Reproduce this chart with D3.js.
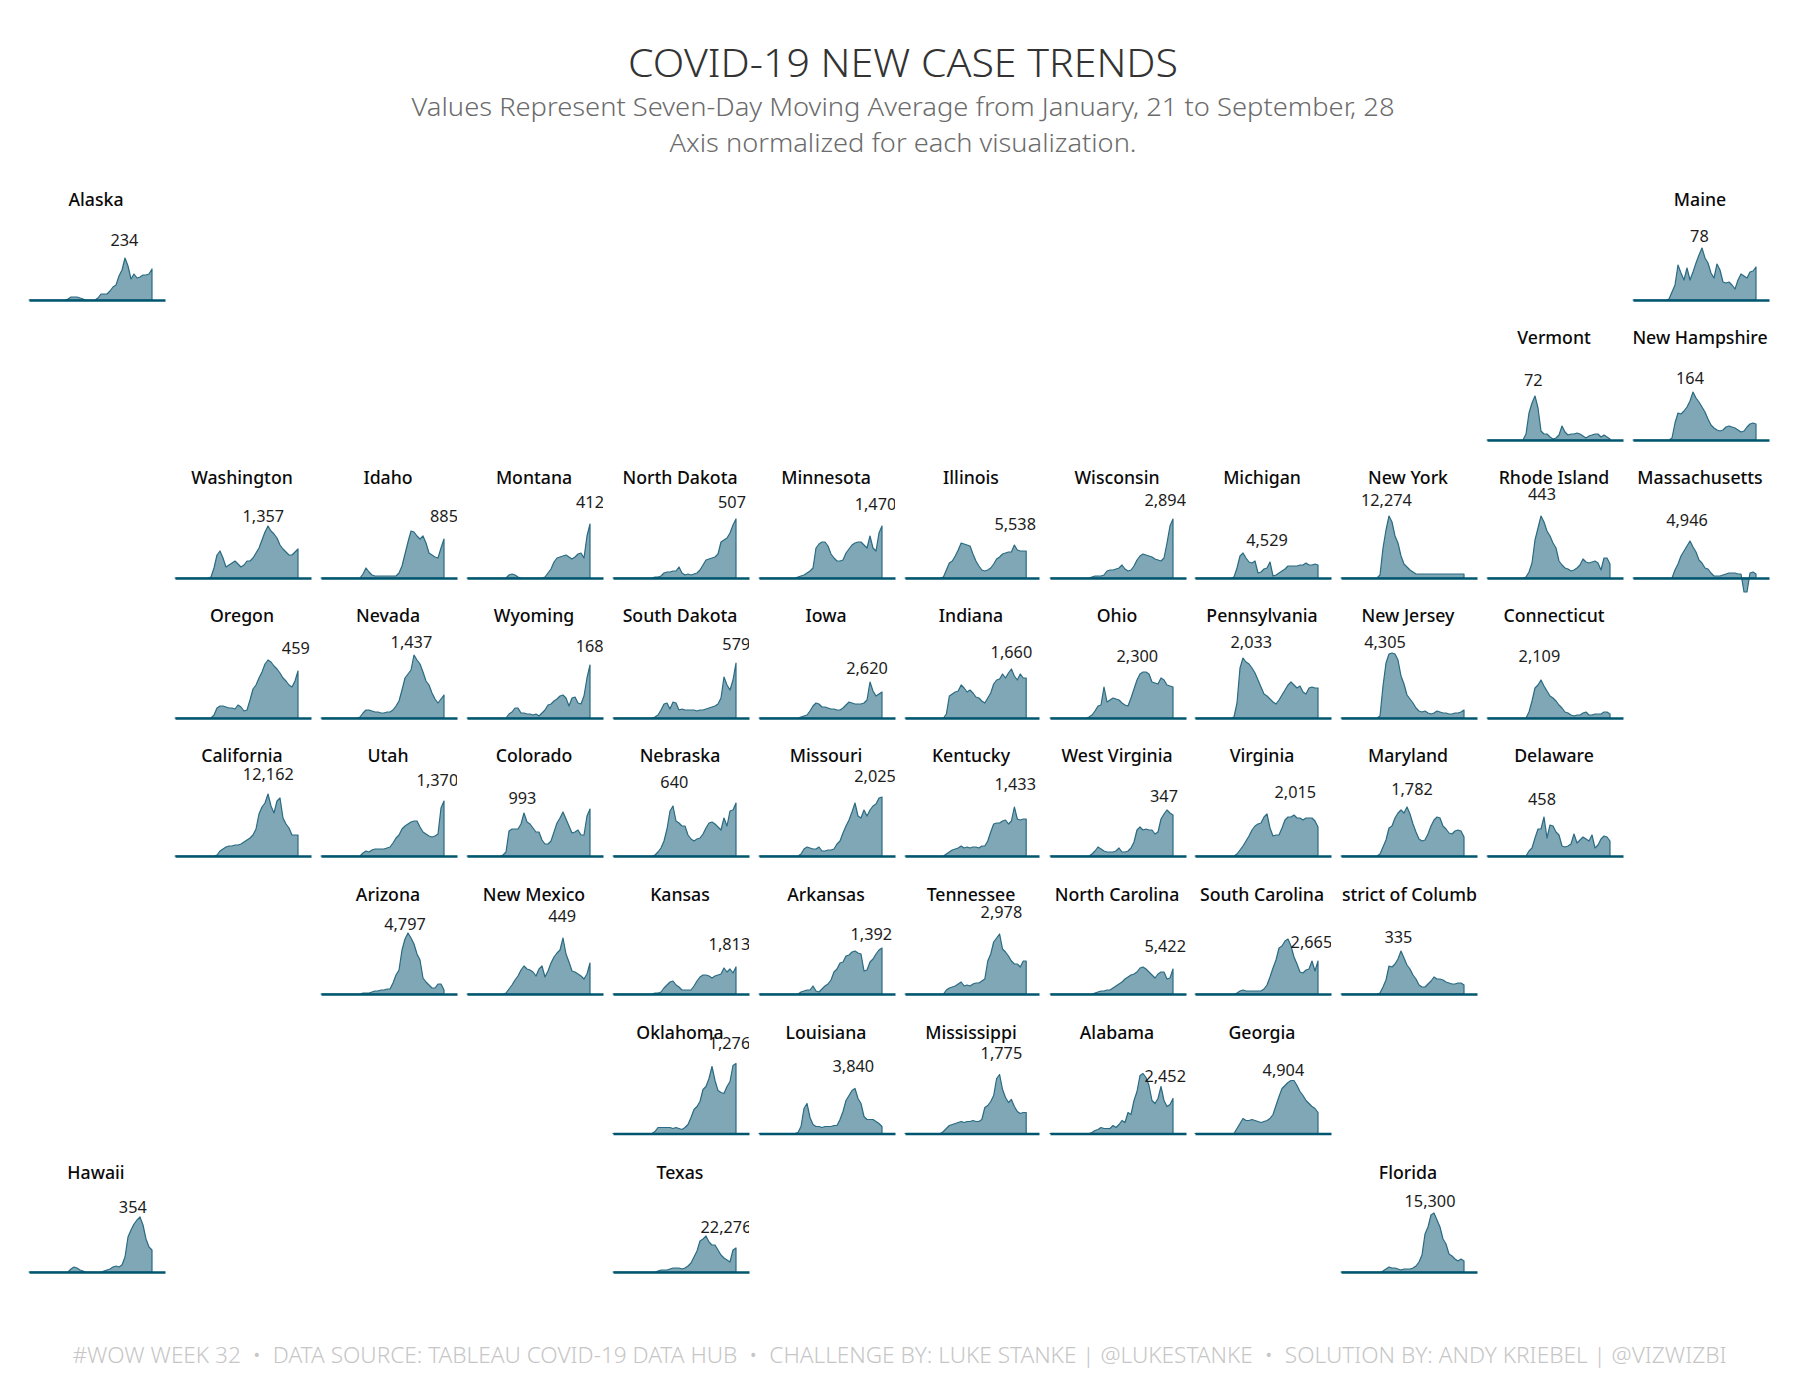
<!DOCTYPE html>
<html>
<head>
<meta charset="utf-8">
<style>
  body { margin: 0; background: #fff; }
  text { font-family: "Noto Sans", "Open Sans", sans-serif; }
</style>
</head>
<body>

<script src="https://d3js.org/d3.v7.min.js"></script>
<script>

// one sample every six days, Jan 21 to Sep 28, in normalized axis units
const alaska = [0,0,0,0,0,0,0,0,0,0,0,0,0,1,3,3,3,2,1,0,0,0,0,2,6,6,6,9,13,15,24,30,42,34,21,26,22,23,25,25,26,31];
const maine = [0,0,0,0,0,0,0,0,0,0,0,0,1,8,15,35,27,20,32,20,28,37,45,52,42,37,27,22,36,30,18,17,18,15,11,20,26,24,22,28,29,33];
const vermont = [0,0,0,0,0,0,0,0,0,0,0,0,0,6,27,37,44,32,9,6,6,3,1,2,5,14,8,5,6,6,7,6,4,2,4,5,6,6,3,5,3,1];
const newHampshire = [0,0,0,0,0,0,0,0,0,0,0,0,0,2,17,27,26,29,33,39,48,42,38,33,28,21,15,12,10,9,10,13,14,13,12,10,8,9,13,16,17,16];
const washington = [0,0,0,0,0,0,0,0,0,0,0,0,1,10,23,27,20,11,13,15,17,14,11,13,17,17,20,25,30,38,46,52,47,44,40,33,29,26,23,23,26,29];
const idaho = [0,0,0,0,0,0,0,0,0,0,0,0,0,0,4,10,6,3,2,2,2,2,2,2,2,2,5,12,24,36,47,46,42,39,42,35,25,23,21,20,30,39];
const montana = [0,0,0,0,0,0,0,0,0,0,0,0,0,0,3,4,3,1,0,0,0,0,0,0,0,0,1,5,9,16,20,21,22,23,21,19,21,24,25,20,42,54];
const northDakota = [0,0,0,0,0,0,0,0,0,0,0,0,0,0,1,1,2,5,6,6,7,7,11,5,3,4,3,4,5,8,13,18,19,20,21,24,36,38,40,45,53,59];
const minnesota = [0,0,0,0,0,0,0,0,0,0,0,0,0,1,2,3,5,7,10,30,34,36,36,32,24,20,17,17,18,25,29,33,35,36,36,33,30,42,30,27,45,52];
const illinois = [0,0,0,0,0,0,0,0,0,0,0,0,0,1,8,15,17,22,28,35,34,33,32,24,17,12,8,7,8,10,14,19,21,24,25,26,26,33,28,27,27,27];
const wisconsin = [0,0,0,0,0,0,0,0,0,0,0,0,0,0,1,2,2,2,3,7,8,8,9,10,13,9,7,8,12,18,22,24,23,22,21,19,18,17,20,35,52,59];
const michigan = [0,0,0,0,0,0,0,0,0,0,0,0,0,1,10,22,25,20,16,15,17,5,6,9,10,16,2,3,5,7,9,12,12,12,12,13,13,15,13,13,14,13];
const newYork = [0,0,0,0,0,0,0,0,0,0,0,0,0,3,30,48,62,56,42,35,22,14,11,8,6,4,4,4,4,4,4,4,4,4,4,4,4,4,4,4,4,4];
const rhodeIsland = [0,0,0,0,0,0,0,0,0,0,0,0,0,1,6,15,38,50,62,56,47,42,35,30,17,13,10,9,7,8,10,13,19,16,15,16,17,15,8,20,20,14];
const massachusetts = [0,0,0,0,0,0,0,0,0,0,0,0,0,0,8,14,22,27,32,37,31,26,18,15,10,9,5,2,2,2,3,4,5,5,5,4,4,-14,-14,5,6,4];
const oregon = [0,0,0,0,0,0,0,0,0,0,0,0,0,3,10,12,12,11,10,10,9,13,11,7,8,18,29,33,40,46,54,58,56,52,49,45,40,37,33,31,37,47];
const nevada = [0,0,0,0,0,0,0,0,0,0,0,0,0,1,5,8,8,7,6,6,5,5,6,6,8,12,17,28,40,44,48,63,58,54,46,37,33,25,19,15,19,23];
const wyoming = [0,0,0,0,0,0,0,0,0,0,0,0,0,0,4,6,10,10,5,5,4,4,3,4,2,5,8,13,14,17,19,22,23,20,12,20,21,15,14,22,40,53];
const southDakota = [0,0,0,0,0,0,0,0,0,0,0,0,0,0,1,3,8,14,15,9,16,15,8,9,8,8,8,8,7,8,8,9,10,11,12,14,20,41,33,28,38,55];
const iowa = [0,0,0,0,0,0,0,0,0,0,0,0,0,0,1,2,3,7,12,15,14,11,11,10,9,9,8,8,10,13,16,15,14,14,14,15,18,36,27,22,24,26];
const indiana = [0,0,0,0,0,0,0,0,0,0,0,0,0,0,4,22,24,26,27,33,30,26,28,25,21,20,17,15,20,25,34,38,39,44,40,45,49,42,38,44,40,40];
const ohio = [0,0,0,0,0,0,0,0,0,0,0,0,0,1,3,7,12,13,31,16,18,20,19,18,15,13,12,20,29,38,44,46,46,44,36,35,34,40,38,33,32,31];
const pennsylvania = [0,0,0,0,0,0,0,0,0,0,0,0,0,1,15,50,60,56,54,50,45,38,31,24,22,19,16,14,18,23,28,33,36,33,30,32,26,24,30,31,30,30];
const newJersey = [0,0,0,0,0,0,0,0,0,0,0,0,0,2,32,55,64,65,64,58,42,34,23,19,15,10,7,6,7,5,4,5,7,6,5,5,4,4,5,5,6,8];
const connecticut = [0,0,0,0,0,0,0,0,0,0,0,0,0,0,6,17,30,33,38,32,27,22,20,17,13,10,6,5,3,2,3,3,5,6,3,3,4,4,4,6,6,4];
const california = [0,0,0,0,0,0,0,0,0,0,0,0,0,0,1,5,7,9,10,10,11,11,12,14,16,18,21,27,42,49,53,62,50,43,55,58,38,32,28,21,21,21];
const utah = [0,0,0,0,0,0,0,0,0,0,0,0,0,0,3,5,4,6,7,7,7,7,8,9,13,18,21,27,30,32,34,35,35,29,24,22,20,19,20,22,48,55];
const colorado = [0,0,0,0,0,0,0,0,0,0,0,0,1,4,25,27,27,27,32,43,34,32,28,24,24,16,12,12,15,24,33,38,44,37,30,23,24,26,21,21,40,47];
const nebraska = [0,0,0,0,0,0,0,0,0,0,0,0,0,0,1,4,8,15,27,45,50,35,33,30,30,21,17,15,17,18,22,28,33,34,32,29,26,38,30,45,46,53];
const missouri = [0,0,0,0,0,0,0,0,0,0,0,0,0,0,2,7,9,8,7,7,9,5,5,6,6,7,12,15,23,30,36,44,53,40,38,46,40,46,50,52,58,59];
const kentucky = [0,0,0,0,0,0,0,0,0,0,0,0,0,0,2,4,6,7,8,10,8,9,8,9,9,8,10,10,15,24,32,33,33,35,36,32,35,49,37,36,37,37];
const westVirginia = [0,0,0,0,0,0,0,0,0,0,0,0,0,0,2,5,9,7,5,4,4,4,5,8,4,4,5,8,14,26,29,26,27,26,26,22,24,37,42,46,43,41];
const virginia = [0,0,0,0,0,0,0,0,0,0,0,0,0,0,2,6,10,15,20,26,30,32,33,39,42,28,20,21,21,28,36,39,39,41,38,38,36,38,38,38,35,29];
const maryland = [0,0,0,0,0,0,0,0,0,0,0,0,0,2,9,16,28,30,38,43,46,43,49,42,32,24,17,15,16,22,30,36,39,38,30,27,23,22,25,26,25,19];
const delaware = [0,0,0,0,0,0,0,0,0,0,0,0,0,0,5,8,18,27,27,39,18,31,30,24,21,10,9,10,12,22,13,16,19,17,15,21,8,11,17,20,19,15];
const arizona = [0,0,0,0,0,0,0,0,0,0,0,0,0,0,1,1,1,2,3,3,4,4,5,5,11,19,24,44,55,61,56,50,40,34,16,12,9,6,6,10,10,4];
const newMexico = [0,0,0,0,0,0,0,0,0,0,0,0,0,1,5,9,14,18,24,28,25,24,22,18,25,28,17,23,31,37,41,44,56,40,32,23,22,20,18,15,20,31];
const kansas = [0,0,0,0,0,0,0,0,0,0,0,0,0,0,1,1,2,6,9,12,13,9,7,4,4,4,4,8,13,17,19,19,18,16,18,19,20,26,22,25,21,27];
const arkansas = [0,0,0,0,0,0,0,0,0,0,0,0,0,0,2,3,4,4,8,3,2,5,8,10,14,22,25,31,32,38,39,42,43,41,40,23,24,32,35,40,44,46];
const tennessee = [0,0,0,0,0,0,0,0,0,0,0,0,0,0,4,6,7,8,10,12,8,9,8,10,11,11,13,15,33,40,52,56,60,45,42,38,33,30,30,27,33,33];
const northCarolina = [0,0,0,0,0,0,0,0,0,0,0,0,0,0,0,1,2,3,3,4,4,6,8,10,12,15,17,19,20,22,26,27,25,22,19,16,20,22,22,15,16,25];
const southCarolina = [0,0,0,0,0,0,0,0,0,0,0,0,0,0,1,3,4,3,3,3,3,3,3,5,9,17,26,34,46,48,53,55,48,37,30,22,21,24,25,33,23,33];
const districtOfColumbia = [0,0,0,0,0,0,0,0,0,0,0,0,0,1,7,14,28,27,30,35,43,36,29,25,19,15,9,7,7,10,13,17,15,15,14,12,11,10,10,11,11,9];
const oklahoma = [0,0,0,0,0,0,0,0,0,0,0,0,0,0,2,6,6,6,6,6,5,6,5,4,6,9,16,24,27,32,44,47,55,67,53,43,41,40,47,52,68,70];
const louisiana = [0,0,0,0,0,0,0,0,0,0,0,0,0,1,7,25,30,16,9,7,7,6,7,7,7,8,8,14,22,33,38,43,45,35,30,17,14,14,14,12,10,7];
const mississippi = [0,0,0,0,0,0,0,0,0,0,0,0,0,2,5,8,9,10,11,12,11,12,12,13,12,12,14,26,28,32,38,55,59,44,36,31,34,27,22,20,21,21];
const alabama = [0,0,0,0,0,0,0,0,0,0,0,0,0,0,1,3,4,6,5,5,5,8,6,9,13,11,21,19,33,42,58,60,56,48,33,30,35,47,33,27,29,35];
const georgia = [0,0,0,0,0,0,0,0,0,0,0,0,0,0,5,10,15,13,13,14,13,12,11,12,13,15,19,28,37,45,48,51,53,53,48,42,38,33,30,27,25,21];
const hawaii = [0,0,0,0,0,0,0,0,0,0,0,0,0,0,3,5,4,2,1,0,0,0,0,0,0,1,2,3,5,6,5,7,15,35,42,48,52,55,47,33,25,22];
const texas = [0,0,0,0,0,0,0,0,0,0,0,0,0,0,0,1,2,2,2,3,4,4,4,3,4,6,9,15,21,31,33,36,30,27,27,22,17,14,12,10,22,24];
const florida = [0,0,0,0,0,0,0,0,0,0,0,0,0,0,1,3,5,4,4,3,2,3,3,3,4,6,10,17,38,45,57,59,52,45,33,28,18,16,13,11,13,11];

const states = [
  'Alaska', 'Maine', 'Vermont', 'New Hampshire',
  'Washington', 'Idaho', 'Montana', 'North Dakota', 'Minnesota', 'Illinois', 'Wisconsin', 'Michigan', 'New York', 'Rhode Island', 'Massachusetts',
  'Oregon', 'Nevada', 'Wyoming', 'South Dakota', 'Iowa', 'Indiana', 'Ohio', 'Pennsylvania', 'New Jersey', 'Connecticut',
  'California', 'Utah', 'Colorado', 'Nebraska', 'Missouri', 'Kentucky', 'West Virginia', 'Virginia', 'Maryland', 'Delaware',
  'Arizona', 'New Mexico', 'Kansas', 'Arkansas', 'Tennessee', 'North Carolina', 'South Carolina', 'District of Columbia',
  'Oklahoma', 'Louisiana', 'Mississippi', 'Alabama', 'Georgia',
  'Hawaii', 'Texas', 'Florida'
];

const trends = [
  alaska, maine, vermont, newHampshire,
  washington, idaho, montana, northDakota, minnesota, illinois, wisconsin, michigan, newYork, rhodeIsland, massachusetts,
  oregon, nevada, wyoming, southDakota, iowa, indiana, ohio, pennsylvania, newJersey, connecticut,
  california, utah, colorado, nebraska, missouri, kentucky, westVirginia, virginia, maryland, delaware,
  arizona, newMexico, kansas, arkansas, tennessee, northCarolina, southCarolina, districtOfColumbia,
  oklahoma, louisiana, mississippi, alabama, georgia,
  hawaii, texas, florida
];

const markedValues = [
  234, 78, 72, 164,
  1357, 885, 412, 507, 1470, 5538, 2894, 4529, 12274, 443, 4946,
  459, 1437, 168, 579, 2620, 1660, 2300, 2033, 4305, 2109,
  12162, 1370, 993, 640, 2025, 1433, 347, 2015, 1782, 458,
  4797, 449, 1813, 1392, 2978, 5422, 2665, 335,
  1276, 3840, 1775, 2452, 4904,
  354, 22276, 15300
];

// tile map layout
const tileCol = [
  0, 11, 10, 11,
  1, 2, 3, 4, 5, 6, 7, 8, 9, 10, 11,
  1, 2, 3, 4, 5, 6, 7, 8, 9, 10,
  1, 2, 3, 4, 5, 6, 7, 8, 9, 10,
  2, 3, 4, 5, 6, 7, 8, 9,
  4, 5, 6, 7, 8,
  0, 4, 9
];
const tileRow = [
  0, 0, 1, 1,
  2, 2, 2, 2, 2, 2, 2, 2, 2, 2, 2,
  3, 3, 3, 3, 3, 3, 3, 3, 3, 3,
  4, 4, 4, 4, 4, 4, 4, 4, 4, 4,
  5, 5, 5, 5, 5, 5, 5, 5,
  6, 6, 6, 6, 6,
  7, 7, 7
];
const colLeft = [29, 175, 321, 467, 613, 759, 905, 1050, 1195, 1341, 1487, 1633];
const colWidth = [136, 136, 136, 136, 136, 136, 134, 136, 136, 136, 136, 136];
const rowBase = [300, 440, 578, 718, 856, 994, 1133.5, 1272];
const rowTitleLift = [94.5, 96.3, 94, 96.3, 94, 93, 94.5, 93.5];

// where the value mark sits: [right of panel start, above the baseline]
const markOffset = [
  [95.4, 59.7], [66.4, 64], [46.3, 60], [57, 61.6],
  [88.3, 61.4], [123, 61.4], [123, 75.6], [119, 76], [116.5, 73.6], [110.2, 53.7], [115.2, 78], [72, 38], [45.4, 78], [55, 83.6], [54, 58],
  [120.8, 70], [90.4, 75.6], [122.7, 71.7], [123.3, 73.7], [108, 49.6], [106.4, 65.6], [87.3, 61.8], [56.3, 75.6], [44, 76], [52.4, 62],
  [93.3, 81.6], [116.4, 75.8], [55.4, 57.4], [61.3, 74], [116.1, 79.6], [110.2, 71.6], [114, 59.4], [100.3, 63.6], [71, 67.3], [55, 57],
  [84, 69.5], [95.2, 78], [116.4, 49.6], [112.3, 59.6], [96.4, 81.8], [115.2, 47.7], [116.4, 51.6], [57.4, 57],
  [116.4, 90.7], [94.3, 67], [96.4, 80.7], [115.2, 57], [88.4, 63],
  [103.8, 64.8], [113, 45], [89, 71.2]
];

const width = 1800;
const height = 1400;

const svg = d3.select('body')
              .append('svg')
              .attr('width', width)
              .attr('height', height);

const headers = [
  {text: 'COVID-19 NEW CASE TRENDS', x: 903, y: 76.5, size: 39, fill: '#333333', len: 550, weight: 300},
  {text: 'Values Represent Seven-Day Moving Average from January, 21 to September, 28', x: 903, y: 116, size: 25, fill: '#6b6b6b', len: 983, weight: 300},
  {text: 'Axis normalized for each visualization.', x: 903, y: 151.5, size: 25, fill: '#6b6b6b', len: 467, weight: 300},
  {text: '#WOW WEEK 32  •  DATA SOURCE: TABLEAU COVID-19 DATA HUB  •  CHALLENGE BY: LUKE STANKE | @LUKESTANKE  •  SOLUTION BY: ANDY KRIEBEL | @VIZWIZBI', x: 899.5, y: 1363, size: 22, fill: '#c6c6c6', len: 1654, weight: 300}
];

svg.selectAll('text.header')
   .data(headers)
   .enter()
   .append('text')
   .attr('class', 'header')
   .attr('x', d => d.x)
   .attr('y', d => d.y)
   .attr('text-anchor', 'middle')
   .attr('font-size', d => d.size)
   .attr('font-weight', d => d.weight)
   .attr('fill', d => d.fill)
   .attr('textLength', d => d.len)
   .attr('lengthAdjust', 'spacingAndGlyphs')
   .style('white-space', 'pre')
   .text(d => d.text);

const numFmt = d3.format(',');
const lastIndex = alaska.length - 1;
const areaEnd = 123;        // last sample lands here on a 136 wide panel

const panels = svg.selectAll('g.panel')
                  .data(states.map((name, i) => ({
                    name,
                    i,
                    values: trends[i],
                    w: colWidth[tileCol[i]],
                    left: colLeft[tileCol[i]],
                    base: rowBase[tileRow[i]],
                    lift: rowTitleLift[tileRow[i]]
                  })))
                  .enter()
                  .append('g')
                  .attr('class', 'panel')
                  .attr('transform', d => `translate(${d.left},${d.base})`);

const defs = svg.append('defs');
panels.each(d => {
  defs.append('clipPath')
      .attr('id', `clip${d.i}`)
      .append('rect')
      .attr('x', d.left)
      .attr('y', d.base - 120)
      .attr('width', d.w)
      .attr('height', 150);
});

const y = d3.scaleLinear().domain([0, 70]).range([0, -70]);

panels.each(function(d) {
  const g = d3.select(this);
  const x = d3.scaleLinear()
              .domain([0, lastIndex * 136 / areaEnd])
              .range([0, d.w]);
  const area = d3.area()
                 .x((v, i) => x(i))
                 .y0(y(0))
                 .y1(v => y(v));

  g.append('path')
   .datum(d.values)
   .attr('d', area)
   .attr('fill', '#7fa7b5')
   .attr('stroke', '#2a6a82')
   .attr('stroke-width', 1.2)
   .attr('stroke-linejoin', 'round');

  const axis = g.append('g')
                .call(d3.axisBottom(x).tickValues([]).tickSizeOuter(0));
  axis.select('.domain')
      .attr('stroke', '#00566f')
      .attr('stroke-width', 2.5);

  const label = d3.select(this.parentNode)
                  .append('g')
                  .attr('clip-path', `url(#clip${d.i})`)
                  .append('g')
                  .attr('transform', `translate(${d.left},${d.base})`);

  label.append('text')
       .attr('x', d.w / 2 - 1)
       .attr('y', -d.lift)
       .attr('text-anchor', 'middle')
       .attr('font-size', 17.7)
       .attr('font-weight', 500)
       .attr('fill', '#0a0a0a')
       .text(d.name);

  label.append('text')
       .attr('x', markOffset[d.i][0])
       .attr('y', -markOffset[d.i][1] + 5.8)
       .attr('text-anchor', 'middle')
       .attr('font-size', 16.3)
       .attr('font-weight', 400)
       .attr('fill', '#1c1c1c')
       .text(numFmt(markedValues[d.i]));
});

</script>
</body>
</html>
